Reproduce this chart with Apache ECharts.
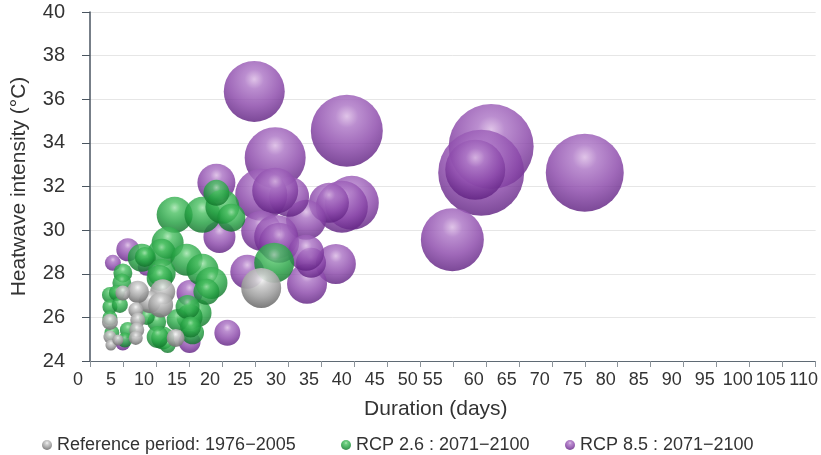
<!DOCTYPE html>
<html>
<head>
<meta charset="utf-8">
<script src="https://cdn.jsdelivr.net/npm/echarts@6/dist/echarts.min.js"></script>
<style>
  html, body { margin: 0; padding: 0; background: #ffffff; }
  #chart { width: 821px; height: 455px; }
</style>
</head>
<body>
<div id="chart"></div>
<script>
// ---- Data (duration in days, intensity in °C, bubble magnitude) ----
const seriesNames = ['Reference period: 1976\u22122005', 'RCP 2.6 : 2071\u22122100', 'RCP 8.5 : 2071\u22122100'];

const refDuration  = [25.95, 11.02, 9.05, 10.71, 7.24, 4.98, 6.94, 7.24, 7.09, 6.94, 3.02, 3.02, 3.17, 4.23, 12.98];
const refIntensity = [27.35, 27.17, 26.71, 26.57, 27.17, 27.12, 26.34, 25.88, 25.42, 25.06, 25.79, 25.10, 24.73, 24.96, 25.06];
const refMagnitude = [20, 12.5, 11, 12.5, 11, 7.5, 7.5, 7.5, 7.5, 7, 8, 6.5, 5.5, 5.5, 9];

const rcp26Duration  = [12.83, 17.05, 20.07, 19.16, 21.43, 11.77, 10.86, 7.85, 14.64, 17.05, 18.41, 10.86, 4.98, 4.83, 3.02,
                        4.07, 3.02, 3.02, 3.32, 16.30, 15.09, 15.54, 11.02, 11.77, 10.11, 5.73, 8.60, 27.92, 17.65, 10.56,
                        4.53, 5.28, 13.28, 14.79, 15.24, 10.26, 8.30];
const rcp26Intensity = [30.70, 30.70, 31.07, 31.71, 30.57, 29.42, 28.96, 28.73, 28.64, 28.18, 27.58, 28.04, 28.04, 27.58, 27.03,
                        27.12, 26.48, 25.97, 25.29, 26.20, 26.02, 25.29, 25.06, 24.73, 25.79, 25.42, 26.02, 28.50, 27.17, 27.81,
                        26.57, 24.96, 25.88, 26.48, 25.56, 25.10, 28.77];
const rcp26Magnitude = [18, 18, 17, 13, 14, 16, 14, 14, 16, 16, 16, 14, 9.5, 9.5, 8,
                        8, 7.5, 7.5, 7.5, 14, 13, 11.5, 11.5, 8, 9.5, 8, 8, 20, 13, 13,
                        8, 7.5, 11, 12, 10.5, 11, 10];

const rcp85Duration  = [24.90, 38.93, 28.07, 60.81, 59.30, 58.40, 75.00, 54.93, 39.69, 38.18, 36.22, 32.75, 30.18, 25.95, 28.07,
                        19.16, 25.95, 28.22, 28.67, 37.27, 32.90, 33.50, 23.84, 20.82, 5.73, 3.47, 19.62, 15.09, 8.60, 4.98, 15.09, 32.75];
const rcp85Intensity = [36.36, 34.56, 33.32, 33.83, 32.63, 32.77, 32.63, 29.56, 31.25, 31.07, 31.25, 30.47, 31.53, 31.62, 31.81,
                        32.17, 29.97, 29.69, 29.42, 28.45, 27.54, 28.50, 28.09, 25.29, 29.10, 28.50, 29.69, 27.12, 28.32, 24.83, 24.87, 28.96];
const rcp85Magnitude = [30.5, 36, 30.5, 42.5, 43, 30, 39, 31.5, 27, 26, 20, 20, 20, 26, 23,
                        19, 20, 22, 20, 20, 20, 15, 17, 13, 11.5, 8, 16, 13, 9, 7.5, 11, 18];

const xTicks = { min: 0, max: 110, step: 5 };
const yTicks = { min: 24, max: 40, step: 2 };

// ---- Build ----
function zip(a, b, c) { return a.map((v, i) => [v, b[i], c[i]]); }
function sphere(c0, c1, c2, c3) {
  return { type: 'radial', x: 0.5, y: 0.3, r: 0.72,
    colorStops: [{ offset: 0, color: c0 }, { offset: 0.22, color: c1 }, { offset: 0.6, color: c2 }, { offset: 1, color: c3 }] };
}
const styles = {
  ref:   sphere('#f4f4f4', '#cdcdcd', '#a2a2a2', '#6c6c6c'),
  rcp26: sphere('#9fe3aa', '#4fc266', '#24a042', '#0f6f28'),
  rcp85: sphere('#d9b7e3', '#ac75c5', '#8b48aa', '#5c1e7e')
};
const FONT = "'Liberation Sans', Arial, Helvetica, sans-serif";
const NARROW = "'Liberation Sans Narrow', 'Liberation Sans', Arial, sans-serif";

function bubbleSeries(name, data, color, opacity) {
  return {
    name: name, type: 'scatter', data: data,
    symbol: 'circle',
    symbolSize: v => v[2] * 2,
    itemStyle: { color: color, opacity: opacity },
    emphasis: { disabled: true },
    clip: false
  };
}

const chart = echarts.init(document.getElementById('chart'), null, { renderer: 'canvas' });
const legendCommon = {
  top: 431, itemWidth: 10, itemHeight: 10, itemGap: 0, itemTextGap: 10, icon: 'circle',
  textStyle: { fontFamily: FONT, fontSize: 18, color: '#333' }, selectedMode: false
};
chart.setOption({
  animation: false,
  backgroundColor: '#ffffff',
  grid: { left: 90, right: 2, top: 12, bottom: 94, containLabel: false },
  legend: [
    Object.assign({ left: 37, data: [seriesNames[0]] }, legendCommon),
    Object.assign({ left: 336, data: [seriesNames[1]] }, legendCommon),
    Object.assign({ left: 560, data: [seriesNames[2]] }, legendCommon)
  ],
  xAxis: {
    type: 'value', min: xTicks.min, max: xTicks.max, interval: xTicks.step,
    name: 'Duration (days)', nameLocation: 'middle', nameGap: 38,
    nameTextStyle: { fontFamily: FONT, fontSize: 21, color: '#333', padding: [0, 34, 0, 0] },
    axisLine: { show: true, lineStyle: { color: '#5f6a74', width: 1 } },
    axisTick: { show: true, inside: false, length: 6, lineStyle: { color: '#8c939a' } },
    axisLabel: {
      fontFamily: NARROW, fontSize: 18, color: '#333', margin: 10, padding: [0, 24, 0, 0],
      formatter: v => (v === 55 ? '{s|55}' : String(v)),
      rich: { s: { fontFamily: NARROW, fontSize: 18, color: '#333', padding: [0, 16, 0, 0] } }
    },
    splitLine: { show: false }
  },
  yAxis: {
    type: 'value', min: yTicks.min, max: yTicks.max, interval: yTicks.step,
    name: 'Heatwave intensity (\u00B0C)', nameLocation: 'middle', nameGap: 60,
    nameTextStyle: { fontFamily: FONT, fontSize: 21, color: '#333' },
    axisLine: { show: true, lineStyle: { color: '#4a5560', width: 1.5 } },
    axisTick: { show: true, inside: false, length: 8, lineStyle: { color: '#4a5560' } },
    axisLabel: { fontFamily: FONT, fontSize: 20, color: '#333', margin: 25 },
    splitLine: { show: true, lineStyle: { color: '#e6e6e6', width: 1 } }
  },
  series: [
    bubbleSeries(seriesNames[2], zip(rcp85Duration, rcp85Intensity, rcp85Magnitude), styles.rcp85, 0.82),
    bubbleSeries(seriesNames[1], zip(rcp26Duration, rcp26Intensity, rcp26Magnitude), styles.rcp26, 0.82),
    bubbleSeries(seriesNames[0], zip(refDuration, refIntensity, refMagnitude), styles.ref, 0.92)
  ]
});
</script>
</body>
</html>
